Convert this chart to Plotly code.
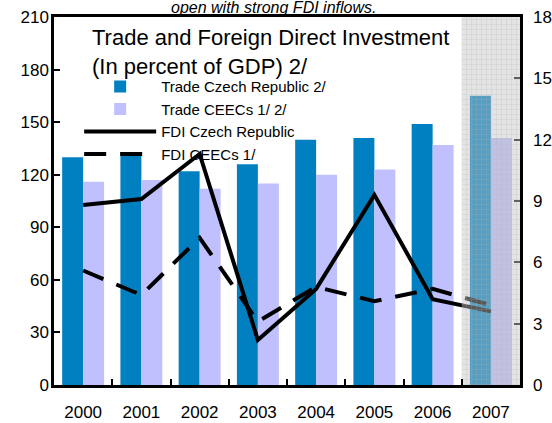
import plotly.graph_objects as go

years = ["2000", "2001", "2002", "2003", "2004", "2005", "2006", "2007"]
trade_cz = [130, 133, 122, 126, 140, 141, 149, 165]
trade_ceec = [116, 117, 112, 115, 120, 123, 137, 141]
fdi_cz = [8.8, 9.1, 11.3, 2.2, 4.7, 9.3, 4.2, 3.6]
fdi_ceec = [5.6, 4.4, 7.2, 3.1, 4.8, 4.1, 4.7, 3.9]
proj_year = ["2007"]
proj_span = [1]

FONT = "Liberation Sans, Arial, sans-serif"

fig = go.Figure()
fig.add_trace(go.Bar(x=years, y=trade_cz, name="Trade Czech Republic 2/",
                     marker=dict(color="#0080C0", line=dict(width=0)),
                     offset=-0.36, width=0.36, xaxis="x", yaxis="y"))
fig.add_trace(go.Bar(x=years, y=trade_ceec, name="Trade CEECs 1/ 2/",
                     marker=dict(color="#C0C0FF", line=dict(width=0)),
                     offset=0.0, width=0.36, xaxis="x", yaxis="y"))
fig.add_trace(go.Scatter(x=years, y=fdi_cz, name="FDI Czech Republic", mode="lines",
                         line=dict(color="black", width=4), xaxis="x", yaxis="y2"))
fig.add_trace(go.Scatter(x=years, y=fdi_ceec, name="FDI CEECs 1/", mode="lines",
                         line=dict(color="black", width=4, dash="22px,14px"),
                         xaxis="x", yaxis="y2"))
# projection shading over 2007
fig.add_trace(go.Bar(x=proj_year, y=proj_span, showlegend=False, hoverinfo="skip",
                     offset=-0.5, width=1.0, xaxis="x", yaxis="y3",
                     marker=dict(color="rgba(195,195,195,0.45)", line=dict(width=0),
                                 pattern=dict(shape="+", size=5, solidity=0.2,
                                              fgcolor="rgba(175,175,175,0.8)",
                                              fillmode="overlay"))))

fig.update_layout(
    width=552, height=423,
    margin=dict(l=54, r=32, t=17, b=38, autoexpand=False),
    paper_bgcolor="white", plot_bgcolor="white",
    barmode="overlay",
    font=dict(family=FONT, size=17, color="black"),
    xaxis=dict(type="category", range=[-0.5, 7.5], showline=True, linecolor="black",
               linewidth=2.5, mirror=True, ticks="inside", ticklen=6, tickcolor="black",
               tickwidth=1.5, tickson="boundaries", showgrid=False, zeroline=False,
               ticklabelstandoff=10, tickfont=dict(size=17), automargin=False),
    yaxis=dict(range=[0, 210], dtick=30, showline=True, linecolor="black", linewidth=2.5,
               mirror=True, ticks="inside", ticklen=6, tickcolor="black", tickwidth=1.5,
               showgrid=False, zeroline=False, tickfont=dict(size=17), automargin=False,
               ticklabelstandoff=-1),
    yaxis2=dict(range=[0, 18], dtick=3, overlaying="y", side="right", showline=False,
                ticks="inside", ticklen=6, tickcolor="#606060", tickwidth=1.5,
                showgrid=False, zeroline=False, ticklabelstandoff=12,
                tickfont=dict(size=17), automargin=False),
    yaxis3=dict(range=[0, 1], overlaying="y", visible=False, fixedrange=True,
                automargin=False),
    legend=dict(x=0.054, y=0.855, xanchor="left", yanchor="top", bgcolor="rgba(0,0,0,0)",
                font=dict(size=15), itemwidth=72, tracegroupgap=0, traceorder="normal"),
    showlegend=True,
    annotations=[
        dict(text="Trade and Foreign Direct Investment<br>(In percent of GDP) 2/",
             xref="paper", yref="paper", x=0.077, y=0.985, xanchor="left", yanchor="top",
             align="left", showarrow=False, font=dict(size=22)),
        dict(text="<i>open with strong FDI inflows.</i>", xref="paper", yref="paper",
             x=0.472, y=1.0245, xanchor="center", yanchor="middle", showarrow=False,
             font=dict(size=16)),
    ],
)

fig.write_html("out.html", config={"displayModeBar": False},
               post_script="document.body.style.margin='0px';")
